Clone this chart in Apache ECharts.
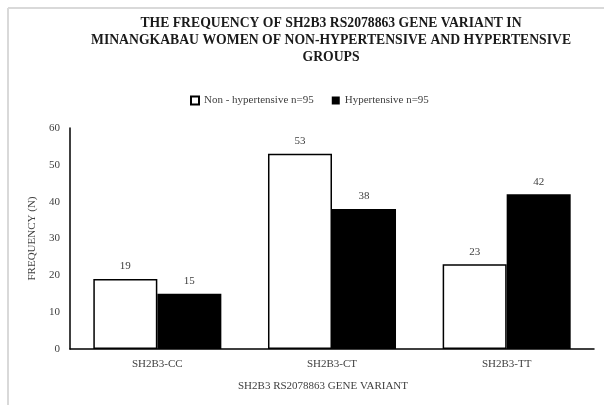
<!DOCTYPE html>
<html><head><meta charset="utf-8">
<script src="https://cdn.jsdelivr.net/npm/echarts@6/dist/echarts.min.js"></script>
<style>html,body{margin:0;padding:0;background:#fff}#c{width:604px;height:405px}</style>
</head><body><div id="c"></div>
<script>
const categories = ['SH2B3-CC', 'SH2B3-CT', 'SH2B3-TT'];
const nonHypertensive = [19, 53, 23];
const hypertensive = [15, 38, 42];
const seriesNames = ['Non - hypertensive n=95', 'Hypertensive n=95'];
const yTicks = { min: 0, max: 60, interval: 10 };
const titleText = 'THE FREQUENCY OF SH2B3 RS2078863 GENE VARIANT IN\nMINANGKABAU WOMEN OF NON-HYPERTENSIVE AND HYPERTENSIVE\nGROUPS';
const xName = 'SH2B3 RS2078863 GENE VARIANT';
const yName = 'FREQUENCY (N)';

const F = 'Liberation Serif';
const chart = echarts.init(document.getElementById('c'));
chart.setOption({
  animation: false,
  backgroundColor: '#fff',
  title: {
    text: titleText, left: 326, top: 10, textAlign: 'center',
    textStyle: { fontFamily: F, fontWeight: 'bold', fontSize: 13.7, color: '#1a1a1a', lineHeight: 17 }
  },
  legend: {
    left: 185, top: 90, icon: 'rect', itemWidth: 8, itemHeight: 8, itemGap: 18,
    textStyle: { fontFamily: F, fontSize: 11, color: '#404040' },
    data: seriesNames
  },
  graphic: [
    { type: 'line', shape: { x1: 8, y1: 8, x2: 604, y2: 8 }, style: { stroke: '#d9d9d9', lineWidth: 2 }, silent: true },
    { type: 'line', shape: { x1: 8, y1: 8, x2: 8, y2: 405 }, style: { stroke: '#d9d9d9', lineWidth: 2 }, silent: true }
  ],
  grid: { left: 70, right: 10, top: 128, bottom: 56, containLabel: false },
  xAxis: {
    type: 'category', data: categories,
    name: xName, nameLocation: 'middle', nameGap: 32,
    nameTextStyle: { fontFamily: F, fontSize: 11, color: '#404040', padding: [0, 18, 0, 0] },
    axisLine: { lineStyle: { color: '#000', width: 1.5 } },
    axisTick: { show: false },
    axisLabel: { fontFamily: F, fontSize: 11, color: '#404040', margin: 10 }
  },
  yAxis: {
    type: 'value', min: yTicks.min, max: yTicks.max, interval: yTicks.interval,
    name: yName, nameLocation: 'middle', nameGap: 30, nameRotate: 90,
    nameTextStyle: { fontFamily: F, fontSize: 11, color: '#404040' },
    axisLine: { show: true, lineStyle: { color: '#000', width: 1.5 } },
    axisTick: { show: false },
    splitLine: { show: false },
    axisLabel: { fontFamily: F, fontSize: 11, color: '#404040', margin: 10 }
  },
  series: [
    {
      name: seriesNames[0], type: 'bar', data: nonHypertensive,
      barGap: '0%', barCategoryGap: '26.7%',
      itemStyle: { color: '#fff', borderColor: '#000', borderWidth: 1.5 },
      label: { show: true, position: 'top', distance: 7, fontFamily: F, fontSize: 11, color: '#404040' }
    },
    {
      name: seriesNames[1], type: 'bar', data: hypertensive,
      itemStyle: { color: '#000' },
      label: { show: true, position: 'top', distance: 7, fontFamily: F, fontSize: 11, color: '#404040' }
    }
  ]
});
</script></body></html>
